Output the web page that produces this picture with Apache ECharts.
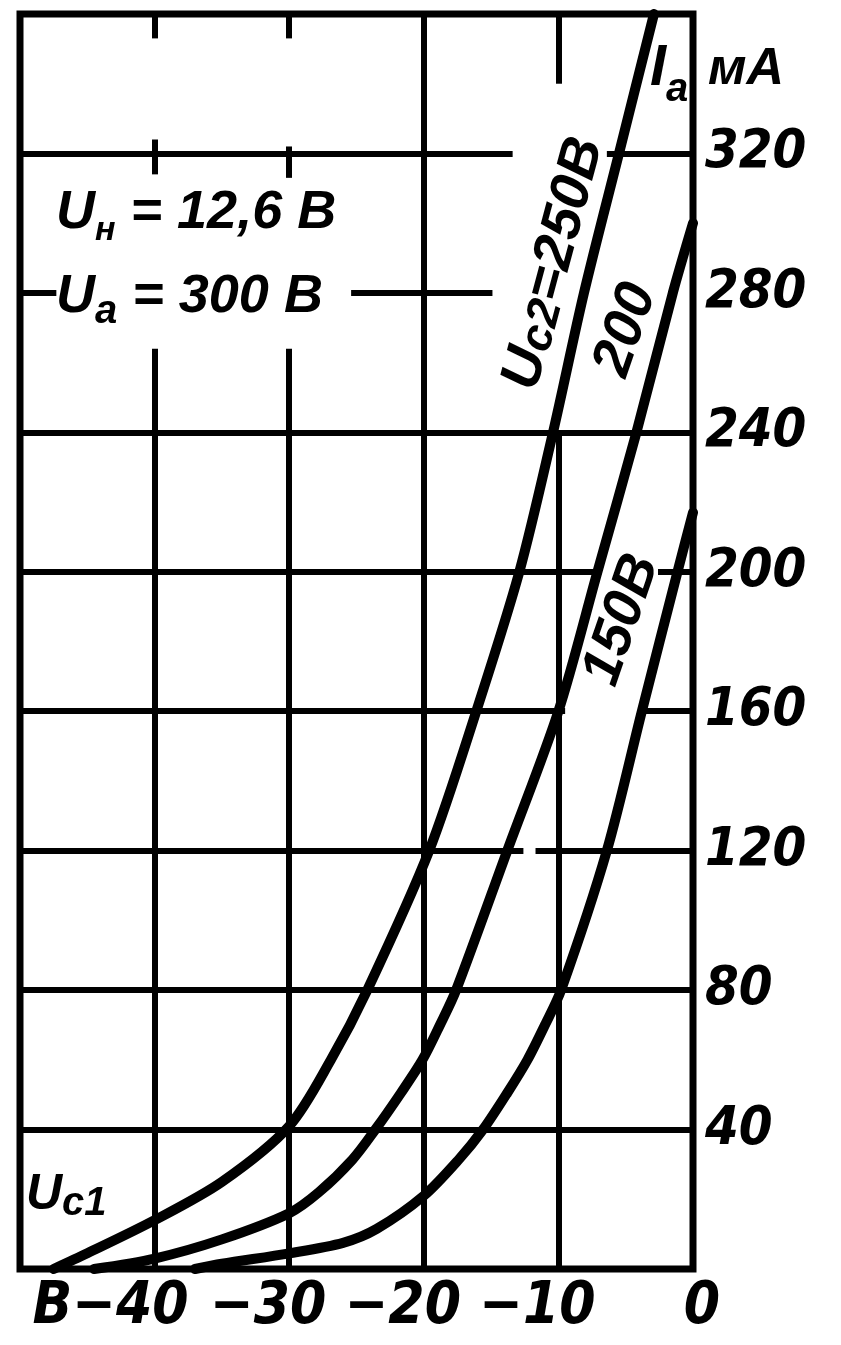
<!DOCTYPE html>
<html><head><meta charset="utf-8">
<script src="https://cdn.jsdelivr.net/npm/echarts@6/dist/echarts.min.js"></script>
<style>html,body{margin:0;padding:0;background:#fff}#c{width:841px;height:1345px}</style>
</head><body><div id="c"></div>
<script>
// Grid voltage Uc1 (V) vs anode current Ia (mA)
const curve250 = [[-47.5,0],[-45,4.5],[-40,14],[-35,25],[-30,41],[-26.9,60],[-24.2,80],[-19.6,120],[-16.1,160],[-12.9,200],[-10.4,240],[-8.1,280],[-5.5,320],[-2.9,360]];
const curve200 = [[-44.5,0],[-40,3],[-35,8.5],[-30,16],[-27.8,22],[-25.3,31.4],[-23.6,40],[-21.7,50.5],[-20.1,60],[-18.8,70],[-17.6,80],[-13.8,120],[-10,160],[-7.1,200],[-4.2,240],[-1.5,280],[0,300]];
const curve150 = [[-37,0],[-35,1.5],[-30,4.5],[-26,7.5],[-23.5,11.5],[-20,21],[-17.4,31.4],[-15.6,40],[-13.8,50.5],[-12.3,60],[-11,70],[-9.8,80],[-6.4,120],[-3.8,160],[-1.15,200],[0,217]];
const xTicks = [-50,-40,-30,-20,-10,0];
const yTicks = [40,80,120,160,200,240,280,320];
// grid segments in data units: horizontal [mA, fromV, toV], vertical [V, fromMA, toMA]
const gridH = [[40,-50,0],[80,-50,0],[120,-50,-12.6],[120,-11.7,0],[160,-50,-9.5],[160,-3.5,0],[200,-50,-7.1],[200,-2.6,0],[240,-50,0],[280,-50,-47.3],[280,-25.4,-14.9],[320,-50,-13.4],[320,-6.4,0]];
const gridV = [[-40,0,264],[-40,314,324],[-40,353,360],[-30,0,264],[-30,313,322],[-30,353,360],[-20,0,360],[-10,0,240],[-10,340,360]];

const F = "'Liberation Sans Narrow','DejaVu Sans Condensed','Liberation Sans',sans-serif";
const F2 = "'Liberation Sans','DejaVu Sans',sans-serif";
const tok = (size, extra) => Object.assign({fontSize:size, fontFamily:F, fontStyle:'italic', fontWeight:'bold', color:'#000'}, extra||{});
const tok2 = (size, extra) => Object.assign({fontSize:size, fontFamily:F2, fontStyle:'italic', fontWeight:'bold', color:'#000'}, extra||{});

const segs = [];
gridH.forEach(g => segs.push([{coord:[g[1], g[0]]},{coord:[g[2], g[0]]}]));
gridV.forEach(g => segs.push([{coord:[g[0], g[1]]},{coord:[g[0], g[2]]}]));

const chart = echarts.init(document.getElementById('c'), null, {renderer:'canvas'});
const curveSeries = (name, data) => ({
  name, type:'line', data, smooth:0.3, symbol:'none',
  lineStyle:{color:'#000', width:10, cap:'round'}, z:5, silent:true
});

chart.setOption({
  animation:false,
  backgroundColor:'#fff',
  grid:{left:20, right:148, top:14, bottom:76, show:true, borderColor:'#000', borderWidth:7},
  xAxis:{type:'value', min:xTicks[0], max:xTicks[xTicks.length-1], interval:10,
    axisLine:{show:false}, axisTick:{show:false}, splitLine:{show:false},
    axisLabel:{margin:10, showMinLabel:true, showMaxLabel:true,
      formatter: v => v === -50 ? '' : (v === -40 ? '{a|В−40}' : (v < 0 ? '{n|−' + (-v) + '}' : '{z|0}')),
      rich:{a:tok(58,{padding:[0,88,0,0]}), n:tok(58,{padding:[0,42,0,0]}), z:tok(58,{padding:[0,0,0,18]})}
    }},
  yAxis:{type:'value', position:'right', min:0, max:360, interval:40,
    axisLine:{show:false}, axisTick:{show:false}, splitLine:{show:false},
    axisLabel:{margin:12, formatter: v => yTicks.indexOf(v) >= 0 ? '{v|' + v + '}' : '', rich:{v:tok(54)}}},
  series:[
    {type:'line', data:[], silent:true, markLine:{silent:true, symbol:'none', label:{show:false},
      lineStyle:{color:'#000', width:6, type:'solid'}, emphasis:{disabled:true}, data:segs}},
    curveSeries('Uc2 = 250 В', curve250),
    curveSeries('200 В', curve200),
    curveSeries('150 В', curve150)
  ],
  graphic:[
    {type:'text', left:56, top:186, z:10, style:{text:'{u|U}{s|н}{u| = 12,6 В}',
      rich:{u:tok2(54,{verticalAlign:'top', lineHeight:64}), s:tok2(34,{verticalAlign:'top', lineHeight:34, padding:[28,0,0,0]})}}},
    {type:'text', left:56, top:270, z:10, style:{text:'{u|U}{s|а}{u| = 300 В}',
      rich:{u:tok2(54,{verticalAlign:'top', lineHeight:64}), s:tok2(40,{verticalAlign:'top', lineHeight:40, padding:[22,0,0,0]})}}},
    {type:'text', left:26, top:1170, z:10, style:{text:'{u|U}{s|с1}',
      rich:{u:tok2(50,{verticalAlign:'top', lineHeight:58}), s:tok2(40,{verticalAlign:'top', lineHeight:40, padding:[14,0,0,0]})}}},
    {type:'text', left:650, top:40, z:10, style:{text:'{u|I}{s|а}',
      rich:{u:tok2(58,{verticalAlign:'top', lineHeight:62}), s:tok2(40,{verticalAlign:'top', lineHeight:40, padding:[30,0,0,0]})}}},
    {type:'text', left:708, top:44, z:10, style:{text:'мА', font:"italic bold 52px " + F2, fill:'#000'}},
    {type:'text', x:552, y:263, rotation:75*Math.PI/180, z:10, style:{text:'{u|U}{s|с2}{u|=250В}', align:'center', verticalAlign:'middle',
      rich:{u:tok2(56,{verticalAlign:'bottom', lineHeight:60}), s:tok2(46,{verticalAlign:'bottom', lineHeight:52})}}},
    {type:'text', x:626, y:330, rotation:71*Math.PI/180, z:10, style:{text:'200', align:'center', verticalAlign:'middle', font:"italic bold 56px " + F2, fill:'#000'}},
    {type:'text', x:622, y:620, rotation:71*Math.PI/180, z:10, style:{text:'150В', align:'center', verticalAlign:'middle', font:"italic bold 56px " + F2, fill:'#000'}}
  ]
});
</script></body></html>
